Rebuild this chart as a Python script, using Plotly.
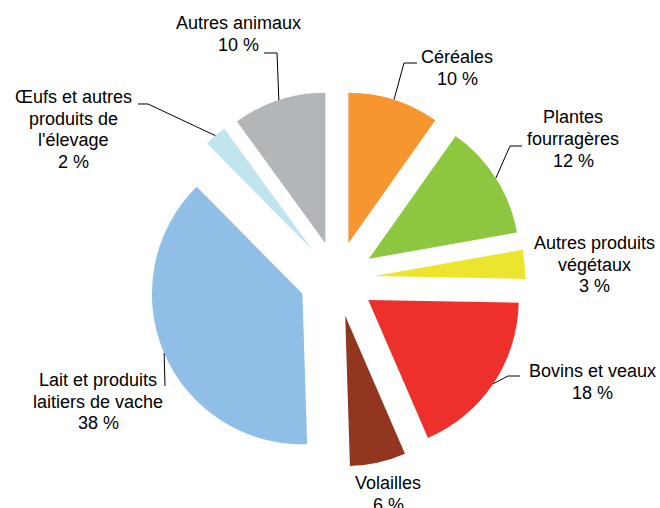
import math
import plotly.graph_objects as go

# ---------------- data ----------------
categories = ["Céréales", "Plantes fourragères", "Autres produits végétaux",
              "Bovins et veaux", "Volailles", "Lait et produits laitiers de vache",
              "Œufs et autres produits de l'élevage", "Autres animaux"]
shares = [9.8, 12.4, 3.1, 18.2, 6.0, 38.1, 2.4, 10.0]          # slice sizes (%)
pct_labels = ["10 %", "12 %", "3 %", "18 %", "6 %", "38 %", "2 %", "10 %"]
label_lines = [["Céréales"], ["Plantes", "fourragères"], ["Autres produits", "végétaux"],
               ["Bovins et veaux"], ["Volailles"], ["Lait et produits", "laitiers de vache"],
               ["Œufs et autres", "produits de", "l'élevage"], ["Autres animaux"]]
colors = ["#F7962F", "#8DC63F", "#ECE52D", "#EE302C", "#93361F",
          "#8FBEE6", "#C1E5EF", "#B3B6B9"]

# ---------------- layout constants ----------------
W, H = 660, 508
PULL = 0.25
DOM_X = [0.2256, 0.7956]
DOM_Y = [0.0805, 0.8211]
FONT = dict(family="Liberation Sans, Arial, sans-serif", size=18, color="#000000")
LINE_H = 21.8

# label x centre and first-line baseline (px); leader knee/end points (px)
label_pos = [(457, 63.5), (573, 123.5), (594, 249), (592, 377),
             (388, 489), (98, 386), (73, 103), (238, 29.5)]
leaders = {
    0: [(404, 63), (417, 63)],
    1: [(510, 146), (522, 146)],
    3: [(508, 376), (520, 376)],
    5: [(165, 386)],
    6: [(148, 104), (138, 104)],
    7: [(277, 53), (264, 53)],
}

def px2paper(x, y):
    return x / W, 1 - y / H

fig = go.Figure(go.Pie(
    labels=categories, values=shares, sort=False, direction="clockwise",
    rotation=0, pull=[PULL] * len(shares), textinfo="none",
    marker=dict(colors=colors, line=dict(width=0)),
    domain=dict(x=DOM_X, y=DOM_Y), hoverinfo="label+percent",
))

# pie geometry (as plotly computes it) for leader anchors
box_w = (DOM_X[1] - DOM_X[0]) * W
box_h = (DOM_Y[1] - DOM_Y[0]) * H
r = min(box_w, box_h) / 2 / (1 + PULL)
cx = (DOM_X[0] + DOM_X[1]) / 2 * W
cy = (1 - (DOM_Y[0] + DOM_Y[1]) / 2) * H
total = sum(shares)
cum = 0
anchors = []
for v in shares:
    mid = (cum + v / 2) / total * 2 * math.pi
    cum += v
    R = r * (1 + PULL)
    anchors.append((cx + R * math.sin(mid), cy - R * math.cos(mid)))

shapes = []
for i, pts in leaders.items():
    allp = [anchors[i]] + pts
    path = ""
    for k, (x, y) in enumerate(allp):
        px, py = px2paper(x, y)
        path += ("M" if k == 0 else " L") + f" {px:.5f},{py:.5f}"
    shapes.append(dict(type="path", path=path, xref="paper", yref="paper",
                       line=dict(color="#000000", width=1)))

annotations = []
for i, (x, b0) in enumerate(label_pos):
    lines = label_lines[i] + [pct_labels[i]]
    for j, t in enumerate(lines):
        base = b0 + j * LINE_H
        px, py = px2paper(x, base - 0.345 * FONT["size"])
        annotations.append(dict(
            text=t, x=px, y=py, xref="paper", yref="paper",
            xanchor="center", yanchor="middle", showarrow=False,
            align="center", font=FONT, borderpad=0))

fig.update_layout(width=W, height=H, margin=dict(l=0, r=0, t=0, b=0),
                  paper_bgcolor="white", plot_bgcolor="white",
                  showlegend=False, shapes=shapes, annotations=annotations)

fig.write_html("out.html", config={"displayModeBar": False},
               post_script="document.body.style.margin='0';"
                           "document.body.style.overflow='hidden';")
